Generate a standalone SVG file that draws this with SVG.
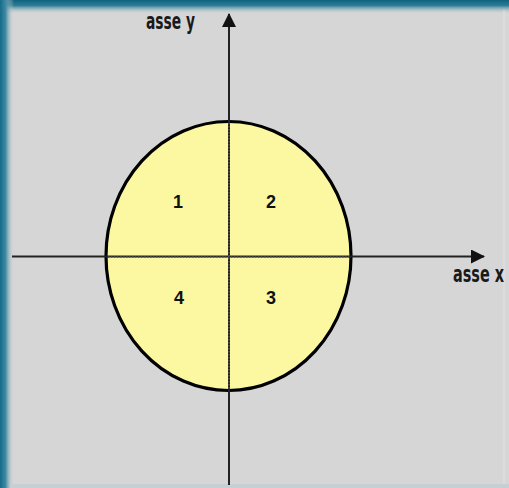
<svg xmlns="http://www.w3.org/2000/svg" width="509" height="488" viewBox="0 0 509 488">
<defs>
<linearGradient id="gTop" x1="0" y1="0" x2="0" y2="1">
<stop offset="0" stop-color="#0f627f"/>
<stop offset="0.4" stop-color="#2f7d97"/>
<stop offset="1" stop-color="#d6d6d6" stop-opacity="0"/>
</linearGradient>
<linearGradient id="gLeft" x1="0" y1="0" x2="1" y2="0">
<stop offset="0" stop-color="#156b89"/>
<stop offset="0.4" stop-color="#3f8aa2"/>
<stop offset="1" stop-color="#d6d6d6" stop-opacity="0"/>
</linearGradient>
<marker id="arr" viewBox="0 0 14 14" refX="13" refY="7" markerWidth="14" markerHeight="14" markerUnits="userSpaceOnUse" orient="auto">
<path d="M0,0 L14,7 L0,14 Z" fill="#111"/>
</marker>
<style>
.axis{stroke:#222;stroke-width:2;fill:none}
.dot{stroke:#555;stroke-width:1.5;stroke-dasharray:1.5 1.5;fill:none}
.num{font-family:"Liberation Sans",Arial,sans-serif;font-weight:bold;font-size:18px;fill:#111;text-anchor:middle}
.lbl{font-family:"DejaVu Sans Condensed","Liberation Sans Narrow","Liberation Sans",sans-serif;font-weight:bold;font-size:14px;fill:#1a1a1a}
</style>
</defs>
<rect x="0" y="0" width="509" height="488" fill="#d6d6d6"/>
<rect x="0" y="0" width="509" height="14" fill="url(#gTop)"/>
<rect x="0" y="0" width="14" height="488" fill="url(#gLeft)"/>
<rect x="503" y="10" width="2" height="478" fill="#e2e6e8" opacity="0.4"/>
<rect x="10" y="484" width="499" height="4" fill="#c4d0d6"/>
<g id="ellipse">
<ellipse cx="228.5" cy="256" rx="122.5" ry="134.5" fill="#fcf8a2" stroke="#000" stroke-width="3.2"/>
</g>
<g id="connectors">
<line class="axis" x1="12" y1="256.5" x2="484" y2="256.5" marker-end="url(#arr)"/>
<line class="axis" x1="229" y1="485" x2="229" y2="14" marker-end="url(#arr)"/>
<line class="dot" x1="108" y1="257" x2="349" y2="257"/>
<line class="dot" x1="229" y1="123" x2="229" y2="389"/>
</g>
<g id="q1"><text class="num" x="178" y="208">1</text></g>
<g id="q2"><text class="num" x="271" y="208">2</text></g>
<g id="q4"><text class="num" x="179" y="304">4</text></g>
<g id="q3"><text class="num" x="271" y="304">3</text></g>
<g id="label-y"><text class="lbl" transform="translate(146,29) scale(1,1.7)" x="0" y="0" textLength="49" lengthAdjust="spacingAndGlyphs">asse y</text></g>
<g id="label-x"><text class="lbl" transform="translate(453,282) scale(1,1.7)" x="0" y="0" textLength="51" lengthAdjust="spacingAndGlyphs">asse x</text></g>
</svg>
